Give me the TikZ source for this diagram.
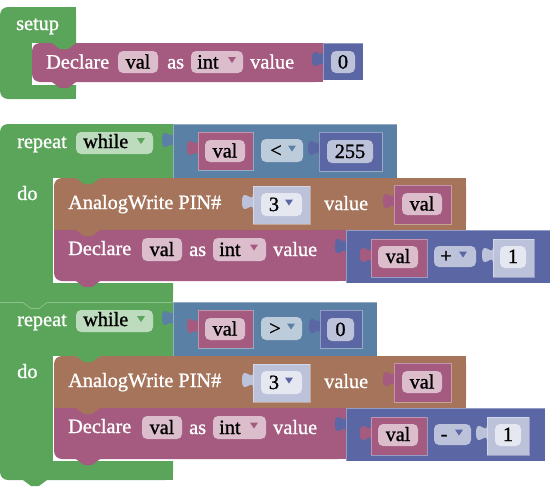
\documentclass[tikz,border=0pt]{standalone}
\usepackage{fontspec}
\setmainfont{Liberation Serif}
\newfontfamily\blkfont{Liberation Serif}[FakeBold=1]
\definecolor{cGreen}{RGB}{91,165,91}
\definecolor{cGreenL}{RGB}{189,219,189}
\definecolor{cPink}{RGB}{165,91,128}
\definecolor{cPinkL}{RGB}{219,189,204}
\definecolor{cSteel}{RGB}{91,128,165}
\definecolor{cSteelL}{RGB}{189,204,219}
\definecolor{cBlue}{RGB}{91,103,165}
\definecolor{cBlueL}{RGB}{189,194,219}
\definecolor{cBlueW}{RGB}{229,231,241}
\definecolor{cBrown}{RGB}{165,116,91}
\newcommand\fs{\blkfont\fontsize{20.3}{24}\selectfont}
\newcommand\tabat[3]{\fill[#1,shift={({#2},{#3})}] (0,0) .. controls (0,10.7) and (-11,-8.5) .. (-11,8) .. controls (-11,24.5) and (0,5.3) .. (0,16) -- cycle;}
\newcommand\vblk[5]{\fill[#1] (#2,#3) rectangle (#4,#5); \tabat{#1}{#2}{#3+8}\draw[white, opacity=0.35, line width=0.7pt] (#2,#5) -- (#2,#3) -- (#4,#3) -- (#4,#5) -- cycle;}
\newcommand\fld[5]{\fill[#1,rounded corners=5] (#2,#3) rectangle (#4,#5);}
\newcommand\dtri[3]{\fill[#1] ({#2-4},{#3-3}) -- ({#2+4},{#3-3}) -- ({#2},{#3+3}) -- cycle;}
\newcommand\notchV[3]{\fill[#1] ({#2},{#3-0.5}) -- ({#2},{#3}) -- ({#2+8},{#3+6}) -- ({#2+16},{#3+6}) -- ({#2+24},{#3}) -- ({#2+24},{#3-0.5}) -- cycle;}
\begin{document}
\begin{tikzpicture}[x=1pt,y=-1pt,
  wt/.style={font=\fs, text=white, inner sep=0pt, anchor=base west},
  bt/.style={font=\fs, text=black, inner sep=0pt, anchor=base}]
\useasboundingbox (0,0) rectangle (560,499);
% ================= setup =================
\fill[cGreen, rounded corners=8] (0,7) rectangle (76,99);
\fill[cGreen] (40,7) rectangle (76,99);
\fill[white] (32,43) rectangle (77,85);
\node[wt] (setup) at (16,30) {setup};
\fill[cPink, rounded corners=8] (32,43) rectangle (323,82);
\fill[cPink] (50,43) rectangle (323,82);
\notchV{cGreen}{52}{43}
\notchV{cPink}{52}{82}
\node[wt] (d0) at (46,68.5) {Declare};
\fld{cPinkL}{118}{51}{158}{73}
\node[bt] (v0) at (138,68.5) {val};
\node[wt] (as0) at (167,68.5) {as};
\fld{cPinkL}{191}{51}{243}{73}
\node[bt, anchor=base west] (i0) at (197,68.5) {int};
\dtri{cPink}{232}{60}
\node[wt] (val0) at (250,68.5) {value};
\vblk{cBlue}{323}{43}{363}{80}
\fld{cBlueL}{331}{51}{355}{73}
\node[bt] (z0) at (343,68.5) {0};
% ================= repeat 1 =================
\fill[cGreen, rounded corners=8] (0,124) rectangle (173,302);
\fill[cGreen] (20,124) rectangle (173,302);
\fill[cGreen] (0,140) rectangle (173,302);
\fill[white] (53,178) rectangle (174,283);
\node[wt] (rep1) at (17,148) {repeat};
\fld{cGreenL}{76}{132}{153}{154}
\node[bt, anchor=base west] (wh1) at (83,148) {while};
\dtri{cGreen}{141}{141}
\node[wt] (do1) at (17,200) {do};
% condition
\vblk{cSteel}{173}{124}{397}{179}
\vblk{cPink}{198}{132}{253}{170}
\fld{cPinkL}{205}{140}{245}{162}
\node[bt] (cv1) at (225,157.5) {val};
\fld{cSteelL}{261}{139}{303}{162}
\node[bt] (lt1) at (276,157) {<};
\dtri{cSteel}{292}{148.5}
\vblk{cBlue}{319}{132}{382}{171}
\fld{cBlueL}{327}{140}{373}{163}
\node[bt] (n255) at (350,158) {255};
% analog write 1
\fill[cBrown, rounded corners=8] (54,178) rectangle (466,230);
\fill[cBrown] (54,190) rectangle (466,230);
\fill[cBrown] (70,178) rectangle (466,230);
\notchV{cGreen}{76}{178}
\node[wt] (aw1) at (68,209) {AnalogWrite PIN\#};
\vblk{cBlueL}{253}{186}{310}{224}
\fld{cBlueW}{261}{193}{302}{216}
\node[bt] (p1) at (274,211) {3};
\dtri{cBlue}{289}{202.5}
\node[wt] (awv1) at (324,210) {value};
\vblk{cPink}{394}{185}{451}{224}
\fld{cPinkL}{402}{193}{442}{215}
\node[bt] (awval1) at (422,210.5) {val};
% declare 1
\fill[cPink, rounded corners=8] (54,230) rectangle (346,281);
\fill[cPink] (54,230) rectangle (346,265);
\fill[cPink] (70,230) rectangle (346,281);
\notchV{cBrown}{76}{230}
\notchV{cPink}{76}{281}
\node[wt] (d1) at (68,255) {Declare};
\fld{cPinkL}{142}{238}{182}{261}
\node[bt] (dv1) at (162,256) {val};
\node[wt] (as1) at (189,256) {as};
\fld{cPinkL}{213}{238}{266}{261}
\node[bt, anchor=base west] (i1) at (219,256) {int};
\dtri{cPink}{254}{247.5}
\node[wt] (dval1) at (273,256) {value};
\vblk{cBlue}{346}{230}{550}{283}
\vblk{cPink}{371}{239}{427}{277}
\fld{cPinkL}{378}{246}{418}{268}
\node[bt] (av1) at (398,263) {val};
\fld{cBlueL}{434}{246}{476}{267}
\node[bt] (plus) at (446,262.5) {+};
\dtri{cBlue}{463}{254.5}
\vblk{cBlueL}{493}{239}{534}{277}
\fld{cBlueW}{500}{246}{526}{268}
\node[bt] (one1) at (513,263) {1};
% ================= repeat 2 =================
\fill[cGreen, rounded corners=8] (0,302) rectangle (173,480);
\fill[cGreen] (20,302) rectangle (173,480);
\fill[cGreen] (0,302) rectangle (173,460);
\draw[cGreen!70!white, line width=0.8pt] (0,302.5) -- (23,302.5) -- (31,308.5) -- (39,308.5) -- (47,302.5) -- (173,302.5);
\notchV{cGreen}{23}{480}
\fill[white] (53,356) rectangle (174,461);
\node[wt] (rep2) at (17,326) {repeat};
\fld{cGreenL}{76}{310}{153}{332}
\node[bt, anchor=base west] (wh2) at (83,326) {while};
\dtri{cGreen}{141}{319}
\node[wt] (do2) at (17,378) {do};
% condition 2
\vblk{cSteel}{173}{302}{377}{357}
\vblk{cPink}{198}{310}{253}{348}
\fld{cPinkL}{205}{318}{245}{340}
\node[bt] (cv2) at (225,335.5) {val};
\fld{cSteelL}{261}{317}{302}{340}
\node[bt] (gt2) at (275,335) {>};
\dtri{cSteel}{291}{326.5}
\vblk{cBlue}{320}{310}{362}{348}
\fld{cBlueL}{327}{318}{354}{341}
\node[bt] (z2) at (340.5,336) {0};
% analog write 2
\fill[cBrown, rounded corners=8] (54,356) rectangle (466,408);
\fill[cBrown] (54,368) rectangle (466,408);
\fill[cBrown] (70,356) rectangle (466,408);
\notchV{cGreen}{76}{356}
\node[wt] (aw2) at (68,387) {AnalogWrite PIN\#};
\vblk{cBlueL}{253}{364}{310}{402}
\fld{cBlueW}{261}{371}{302}{394}
\node[bt] (p2) at (274,389) {3};
\dtri{cBlue}{289}{380.5}
\node[wt] (awv2) at (324,388) {value};
\vblk{cPink}{394}{363}{451}{402}
\fld{cPinkL}{402}{371}{442}{393}
\node[bt] (awval2) at (422,388.5) {val};
% declare 2
\fill[cPink, rounded corners=8] (54,408) rectangle (346,459);
\fill[cPink] (54,408) rectangle (346,443);
\fill[cPink] (70,408) rectangle (346,459);
\notchV{cBrown}{76}{408}
\notchV{cPink}{76}{459}
\node[wt] (d2) at (68,433) {Declare};
\fld{cPinkL}{142}{416}{182}{439}
\node[bt] (dv2) at (162,434) {val};
\node[wt] (as2) at (189,434) {as};
\fld{cPinkL}{213}{416}{266}{439}
\node[bt, anchor=base west] (i2) at (219,434) {int};
\dtri{cPink}{254}{425.5}
\node[wt] (dval2) at (273,434) {value};
\vblk{cBlue}{346}{408}{545}{461}
\vblk{cPink}{371}{417}{427}{455}
\fld{cPinkL}{378}{424}{418}{446}
\node[bt] (av2) at (398,441) {val};
\fld{cBlueL}{434}{424}{471}{445}
\node[bt] (minus) at (444,440.5) {-};
\dtri{cBlue}{459}{432.5}
\vblk{cBlueL}{487}{417}{529}{455}
\fld{cBlueW}{495}{424}{521}{446}
\node[bt] (one2) at (508,441) {1};
\end{tikzpicture}
\end{document}
